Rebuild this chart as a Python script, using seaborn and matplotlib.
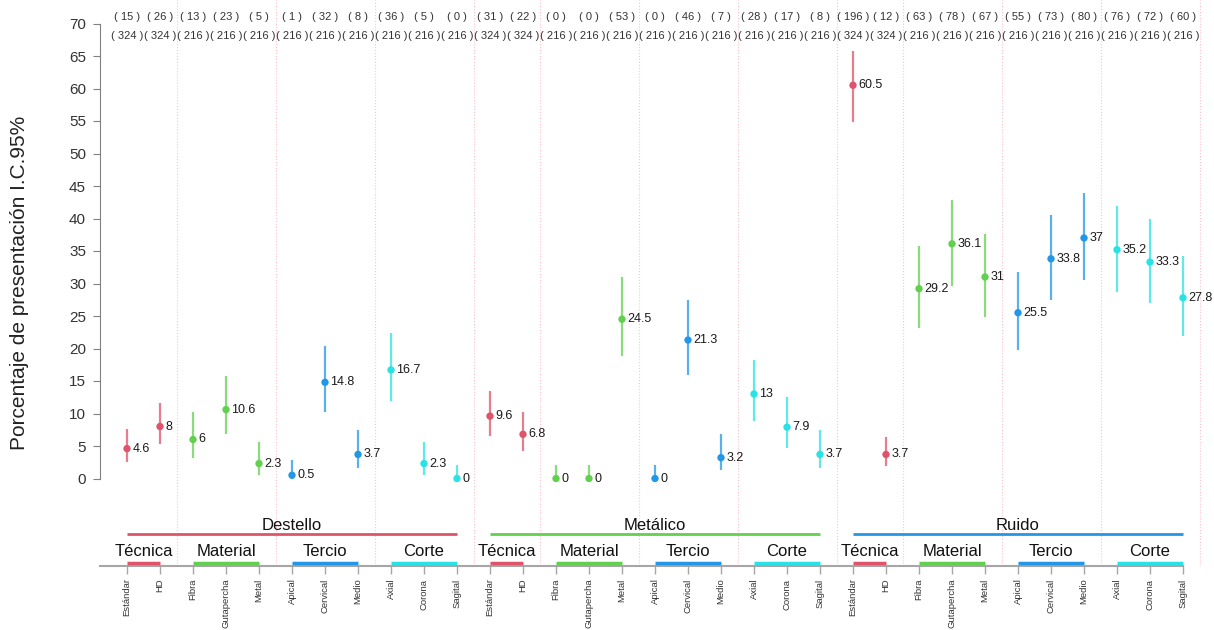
import numpy as np
import pandas as pd
import matplotlib
matplotlib.use("Agg")
import matplotlib.pyplot as plt
import seaborn as sns

# ---- data -------------------------------------------------------------
groups = ["Destello", "Metálico", "Ruido"]
subgroups = ["Técnica", "Material", "Tercio", "Corte"]
levels = {
    "Técnica": ["Estándar", "HD"],
    "Material": ["Fibra", "Gutapercha", "Metal"],
    "Tercio": ["Apical", "Cervical", "Medio"],
    "Corte": ["Axial", "Corona", "Sagital"],
}

pct_destello = [4.6, 8, 6, 10.6, 2.3, 0.5, 14.8, 3.7, 16.7, 2.3, 0]
pct_metalico = [9.6, 6.8, 0, 0, 24.5, 0, 21.3, 3.2, 13, 7.9, 3.7]
pct_ruido = [60.5, 3.7, 29.2, 36.1, 31, 25.5, 33.8, 37, 35.2, 33.3, 27.8]

lo_destello = [2.6, 5.3, 3.2, 6.9, 0.6, 0.0, 10.3, 1.6, 11.9, 0.6, 0.0]
hi_destello = [7.6, 11.6, 10.3, 15.7, 5.6, 2.8, 20.4, 7.4, 22.4, 5.6, 2.1]
lo_metalico = [6.5, 4.3, 0.0, 0.0, 18.9, 0.0, 16.0, 1.3, 8.8, 4.7, 1.6]
hi_metalico = [13.4, 10.2, 2.1, 2.1, 31.0, 2.1, 27.5, 6.8, 18.3, 12.5, 7.4]
lo_ruido = [54.8, 1.9, 23.1, 29.6, 24.8, 19.7, 27.5, 30.5, 28.7, 27.0, 22.0]
hi_ruido = [65.8, 6.4, 35.8, 42.8, 37.6, 31.8, 40.5, 43.9, 42.0, 40.0, 34.3]

cases_destello = [15, 26, 13, 23, 5, 1, 32, 8, 36, 5, 0]
cases_metalico = [31, 22, 0, 0, 53, 0, 46, 7, 28, 17, 8]
cases_ruido = [196, 12, 63, 78, 67, 55, 73, 80, 76, 72, 60]
totals = [324, 324, 216, 216, 216, 216, 216, 216, 216, 216, 216]

pct = [pct_destello, pct_metalico, pct_ruido]
lo = [lo_destello, lo_metalico, lo_ruido]
hi = [hi_destello, hi_metalico, hi_ruido]
cases = [cases_destello, cases_metalico, cases_ruido]

group_colors = {"Destello": "#DF536B", "Metálico": "#61D04F", "Ruido": "#2297E6"}
sub_colors = {"Técnica": "#DF536B", "Material": "#61D04F",
              "Tercio": "#2297E6", "Corte": "#28E2E5"}

# ---- long table ---------------------------------------------------------
rows = []
pos = 0
for gi, g in enumerate(groups):
    k = 0
    for s in subgroups:
        for lev in levels[s]:
            rows.append(dict(group=g, sub=s, level=lev, pos=pos,
                             pct=pct[gi][k], lo=lo[gi][k], hi=hi[gi][k],
                             cases=cases[gi][k], total=totals[k]))
            k += 1
            pos += 1
df = pd.DataFrame(rows)

# ---- figure -------------------------------------------------------------
sns.set_theme(style="white")
plt.rcParams["font.family"] = ["Liberation Sans", "DejaVu Sans"]

W, H = 1214, 630
fig = plt.figure(figsize=(W / 100, H / 100), dpi=100)
ax = fig.add_axes([100 / W, 64 / H, 1114 / W, 566 / H])

ppu = 6.5           # pixels per percentage unit
y_zero_px = 478.5   # pixel row of 0 %
ax.set_ylim(-(566 - y_zero_px) / ppu, y_zero_px / ppu)
ax.set_xlim(-27 / 33, (W - 127) / 33)

# dotted separators between blocks of levels
ends = df.groupby(["group", "sub"], sort=False)["pos"].max().values
for e in ends:
    ax.axvline(e + 0.5, color="#FFC0CB", lw=0.8, ls=":", zorder=0)

# confidence intervals
ax.vlines(df["pos"], df["lo"], df["hi"],
          colors=[sub_colors[s] for s in df["sub"]], lw=1.6, alpha=0.75, zorder=2)

# point estimates
sns.scatterplot(data=df, x="pos", y="pct", hue="sub", palette=sub_colors,
                s=28, edgecolor="none", legend=False, ax=ax, zorder=3)

for _, r in df.iterrows():
    ax.annotate(f"{r.pct:g}", (r.pos, r.pct), xytext=(4, 0),
                textcoords="offset points", ha="left", va="center",
                fontsize=9, color="#1a1a1a")
    ax.text(r.pos, 71.05, f"( {r.cases} )", ha="center", va="center",
            fontsize=8, color="#333333", clip_on=False)
    ax.text(r.pos, 68.1, f"( {r.total} )", ha="center", va="center",
            fontsize=8, color="#333333", clip_on=False)

# group and subgroup brackets under the plot
for g, gdf in df.groupby("group", sort=False):
    p0, p1 = gdf["pos"].min(), gdf["pos"].max()
    ax.plot([p0, p1], [-8.54, -8.54], color=group_colors[g], lw=2,
            solid_capstyle="butt", zorder=2)
    ax.text((p0 + p1) / 2, -7.3, g, ha="center", va="center",
            fontsize=12, color="#111111")
    for s, sdf in gdf.groupby("sub", sort=False):
        q0, q1 = sdf["pos"].min(), sdf["pos"].max()
        ax.plot([q0, q1], [-13.05, -13.05], color=sub_colors[s], lw=2.5,
                solid_capstyle="butt", zorder=4)
        ax.text((q0 + q1) / 2, -11.3, s, ha="center", va="center",
                fontsize=12, color="#111111")

# axes styling
for side in ("top", "right"):
    ax.spines[side].set_visible(False)
ax.spines["left"].set_bounds(0, 70)
ax.spines["left"].set_color("#808080")
ax.spines["left"].set_linewidth(0.8)
ax.spines["bottom"].set_bounds(ax.get_xlim()[0], df["pos"].max())
ax.spines["bottom"].set_color("#A6A6A6")
ax.spines["bottom"].set_linewidth(1.5)

ax.set_yticks(np.arange(0, 71, 5))
ax.tick_params(axis="y", left=True, length=5, width=0.8, color="#808080",
               labelsize=11, labelcolor="#333333", pad=5)
ax.set_xticks(df["pos"])
ax.set_xticklabels(df["level"], rotation=90, fontsize=6.8, color="#333333")
ax.tick_params(axis="x", bottom=True, length=6, width=1, color="#A6A6A6", pad=3)
ax.set_xlabel("")
ax.set_ylabel("")

fig.text(20 / W, 1 - 283 / H, "Porcentaje de presentación I.C.95%",
         rotation=90, ha="center", va="center", fontsize=15, color="#222222")

fig.savefig("out.png", dpi=100)
